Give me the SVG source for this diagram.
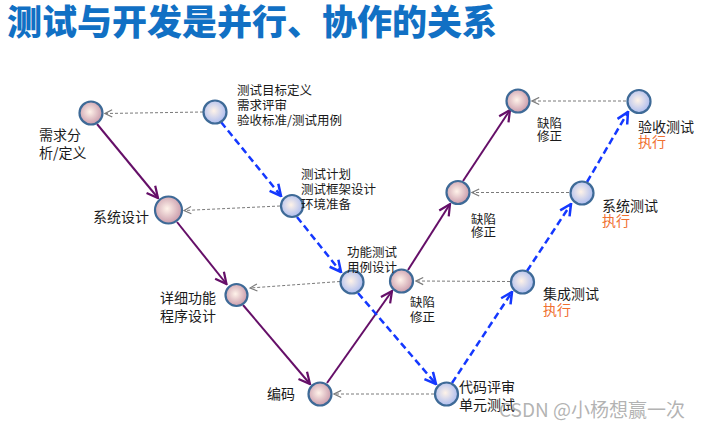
<svg xmlns="http://www.w3.org/2000/svg" width="706" height="431" viewBox="0 0 706 431">
<style>
.t{font-family:"Noto Sans CJK SC","Noto Sans",sans-serif;font-size:12.5px;fill:#1a1a1a}
.L{font-size:14px}
.o{fill:#f07030}
.title{font-family:"Noto Sans CJK SC",sans-serif;font-size:35px;font-weight:900;fill:#1170c4}
.pk{fill:url(#gp);stroke:#3e6a97;stroke-width:2.2}
.bl{fill:url(#gb);stroke:#3e6a97;stroke-width:2.2}
.dev{stroke:#650f68;stroke-width:2;fill:none;marker-end:url(#mp)}
.tst{stroke:#1438ff;stroke-width:2.5;fill:none;stroke-dasharray:7 4;marker-end:url(#mb)}
.fb{stroke:#7a7a7a;stroke-width:1;fill:none;stroke-dasharray:3 2;marker-end:url(#mg)}
.wm{font-family:"Noto Sans CJK SC","Noto Sans",sans-serif;font-size:19px;fill:#a6a6a6;fill-opacity:0.85}
</style>
<defs>
<radialGradient id="gp" cx="0.45" cy="0.45" r="0.6"><stop offset="0" stop-color="#fff3ea"/><stop offset="1" stop-color="#c594a6"/></radialGradient>
<radialGradient id="gb" cx="0.45" cy="0.45" r="0.6"><stop offset="0" stop-color="#fff3e8"/><stop offset="1" stop-color="#a6b8f0"/></radialGradient>
<marker id="mp" markerUnits="userSpaceOnUse" markerWidth="14" markerHeight="14" viewBox="0 0 10 10" refX="9" refY="5" orient="auto"><path d="M1,1 L9,5 L1,9" fill="none" stroke="#650f68" stroke-width="1.6"/></marker>
<marker id="mb" markerUnits="userSpaceOnUse" markerWidth="14" markerHeight="14" viewBox="0 0 10 10" refX="9" refY="5" orient="auto"><path d="M1,1 L9,5 L1,9" fill="none" stroke="#1438ff" stroke-width="1.8"/></marker>
<marker id="mg" markerUnits="userSpaceOnUse" markerWidth="9" markerHeight="9" viewBox="0 0 10 10" refX="9" refY="5" orient="auto"><path d="M1,1 L9,5 L1,9" fill="none" stroke="#7a7a7a" stroke-width="1.3"/></marker>
</defs>
<rect width="706" height="431" fill="#ffffff"/>
<text class="title" x="7" y="35">测试与开发是并行、协作的关系</text>

<g id="connectors">
<line class="fb" x1="203" y1="112" x2="105" y2="113.5"/>
<line class="fb" x1="280" y1="206" x2="184" y2="210.5"/>
<line class="fb" x1="340" y1="281.5" x2="250" y2="288"/>
<line class="fb" x1="434" y1="394" x2="334" y2="394"/>
<line class="fb" x1="510" y1="281.5" x2="416" y2="281"/>
<line class="fb" x1="569" y1="192.5" x2="472" y2="192.5"/>
<line class="fb" x1="626" y1="101" x2="532" y2="101"/>
<line class="dev" x1="97" y1="124" x2="158" y2="198"/>
<line class="dev" x1="177" y1="222" x2="226.5" y2="284"/>
<line class="dev" x1="243" y1="305" x2="310" y2="384"/>
<line class="dev" x1="327" y1="383" x2="392" y2="291"/>
<line class="dev" x1="408" y1="270" x2="450" y2="204"/>
<line class="dev" x1="463" y1="181" x2="510" y2="110"/>
<line class="tst" x1="221" y1="122" x2="281" y2="196"/>
<line class="tst" x1="297" y1="217" x2="341" y2="272"/>
<line class="tst" x1="358" y1="293" x2="436" y2="384"/>
<line class="tst" x1="452" y1="383" x2="512" y2="292"/>
<line class="tst" x1="527" y1="271" x2="571" y2="204"/>
<line class="tst" x1="587" y1="182" x2="628" y2="112"/>
</g>

<g id="n-req"><circle class="pk" cx="91" cy="113" r="11.5"/><text class="t L" x="39" y="140">需求分</text><text class="t L" x="39" y="158">析/定义</text></g>
<g id="n-sys"><circle class="pk" cx="168.5" cy="210" r="13.5"/><text class="t L" x="93" y="222">系统设计</text></g>
<g id="n-detail"><circle class="pk" cx="236.5" cy="295" r="11"/><text class="t L" x="160" y="303">详细功能</text><text class="t L" x="160" y="321">程序设计</text></g>
<g id="n-code"><circle class="pk" cx="320" cy="394" r="11.5"/><text class="t L" x="267" y="399">编码</text></g>
<g id="n-fix1"><circle class="pk" cx="401.5" cy="281" r="11.5"/><text class="t" x="410" y="307">缺陷</text><text class="t" x="410" y="322">修正</text></g>
<g id="n-fix2"><circle class="pk" cx="458" cy="192.5" r="11.5"/><text class="t" x="471" y="224">缺陷</text><text class="t" x="471" y="237">修正</text></g>
<g id="n-fix3"><circle class="pk" cx="518" cy="101" r="11.5"/><text class="t" x="537" y="128">缺陷</text><text class="t" x="537" y="141">修正</text></g>

<g id="n-goal"><circle class="bl" cx="215" cy="112" r="11.5"/><text class="t" x="237" y="95">测试目标定义</text><text class="t" x="237" y="110">需求评审</text><text class="t" x="237" y="125">验收标准/测试用例</text></g>
<g id="n-plan"><circle class="bl" cx="292" cy="206" r="11"/><text class="t" x="301" y="179">测试计划</text><text class="t" x="301" y="194">测试框架设计</text><text class="t" x="301" y="209">环境准备</text></g>
<g id="n-func"><circle class="bl" cx="352" cy="282" r="11.5"/><text class="t" x="347" y="257">功能测试</text><text class="t" x="347" y="272">用例设计</text></g>
<g id="n-unit"><circle class="bl" cx="446.5" cy="394" r="11.5"/><text class="t L" x="459" y="392">代码评审</text><text class="t L" x="459" y="410">单元测试</text></g>
<g id="n-int"><circle class="bl" cx="522.5" cy="282" r="11.5"/><text class="t L" x="543" y="299">集成测试</text><text class="t L o" x="543" y="315">执行</text></g>
<g id="n-systest"><circle class="bl" cx="582" cy="193" r="11.5"/><text class="t L" x="602" y="211">系统测试</text><text class="t L o" x="602" y="226">执行</text></g>
<g id="n-accept"><circle class="bl" cx="639" cy="101.5" r="11.5"/><text class="t L" x="638" y="132">验收测试</text><text class="t L o" x="638" y="147">执行</text></g>

<text class="wm" x="499" y="417">CSDN @小杨想赢一次</text>
</svg>
